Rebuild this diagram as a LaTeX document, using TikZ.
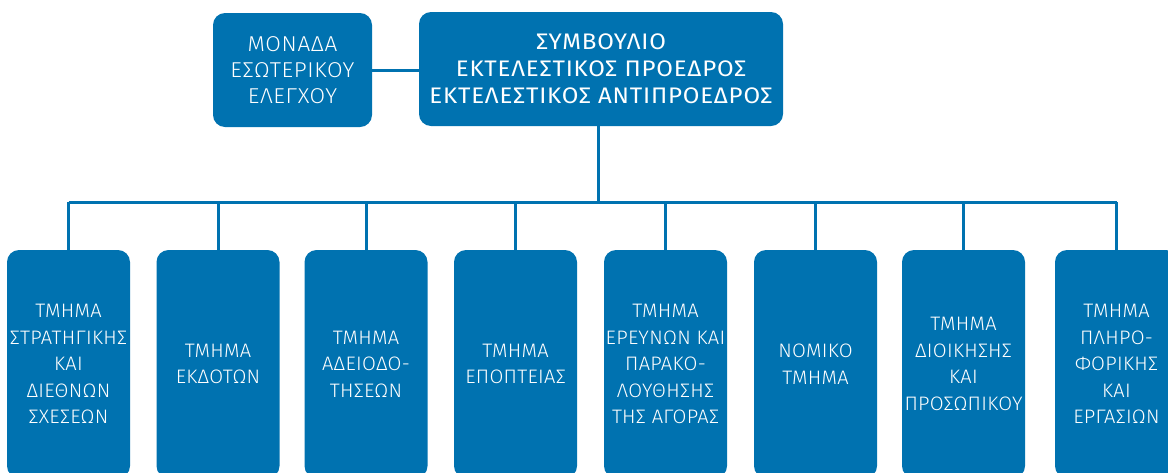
\documentclass[tikz,border=0pt]{standalone}
\usepackage{fontspec}
\IfFontExistsTF{Fira Sans Light}{%
  \newfontfamily\unitfont[FakeStretch=1.05,LetterSpace=3]{Fira Sans Light}%
  \newfontfamily\deptfont[FakeStretch=1.03,LetterSpace=1.5]{Fira Sans Light}%
}{%
  \newfontfamily\unitfont[FakeStretch=1.05,LetterSpace=3]{Fira Sans}%
  \newfontfamily\deptfont[FakeStretch=1.03,LetterSpace=1.5]{Fira Sans}%
}
\newfontfamily\boardfont[FakeStretch=1.07,LetterSpace=3.5]{Fira Sans}
\definecolor{boxblue}{RGB}{0,114,176}
\tikzset{
  box/.style={fill=boxblue, rounded corners=12pt, text=white, align=center, inner sep=0pt},
  topbox/.style={box, font=\unitfont\fontsize{21.5}{26}\selectfont},
  mainbox/.style={box, font=\boardfont\fontsize{22.5}{27}\selectfont},
  dept/.style={box, minimum width=123pt, minimum height=228pt, font=\deptfont\fontsize{19.5}{26.5}\selectfont},
  link/.style={draw=boxblue, line width=3pt}
}
\begin{document}
\begin{tikzpicture}[x=1pt,y=-1pt]
\useasboundingbox (0,0) rectangle (1168,472);
\clip (0,0) rectangle (1168,472);
\node[topbox, minimum width=159pt, minimum height=114pt] (unit) at (292.5,70) {ΜΟΝΑΔΑ\\ΕΣΩΤΕΡΙΚΟΥ\\ΕΛΕΓΧΟΥ};
\node[mainbox, minimum width=364pt, minimum height=114pt] (main) at (601,69) {ΣΥΜΒΟΥΛΙΟ\\ΕΚΤΕΛΕΣΤΙΚΟΣ ΠΡΟΕΔΡΟΣ\\ΕΚΤΕΛΕΣΤΙΚΟΣ ΑΝΤΙΠΡΟΕΔΡΟΣ};
\node[dept] (b1) at (68.5,364) {ΤΜΗΜΑ\\ΣΤΡΑΤΗΓΙΚΗΣ\\ΚΑΙ\\ΔΙΕΘΝΩΝ\\ΣΧΕΣΕΩΝ};
\node[dept] (b2) at (218,364) {ΤΜΗΜΑ\\ΕΚΔΟΤΩΝ};
\node[dept] (b3) at (366,364) {ΤΜΗΜΑ\\ΑΔΕΙΟΔΟ-\\ΤΗΣΕΩΝ};
\node[dept] (b4) at (515.5,364) {ΤΜΗΜΑ\\ΕΠΟΠΤΕΙΑΣ};
\node[dept] (b5) at (665.5,364) {ΤΜΗΜΑ\\ΕΡΕΥΝΩΝ ΚΑΙ\\ΠΑΡΑΚΟ-\\ΛΟΥΘΗΣΗΣ\\ΤΗΣ ΑΓΟΡΑΣ};
\node[dept] (b6) at (815.5,364) {ΝΟΜΙΚΟ\\ΤΜΗΜΑ};
\node[dept] (b7) at (963.5,364) {ΤΜΗΜΑ\\ΔΙΟΙΚΗΣΗΣ\\ΚΑΙ\\ΠΡΟΣΩΠΙΚΟΥ};
\node[dept] (b8) at (1116.5,364) {ΤΜΗΜΑ\\ΠΛΗΡΟ-\\ΦΟΡΙΚΗΣ\\ΚΑΙ\\ΕΡΓΑΣΙΩΝ};
\coordinate (bus) at (598,202);
\draw[link] (unit.east) -- (unit.east -| main.west);
\draw[link] (main.south -| bus) -- (bus);
\draw[link] (b1.north |- bus) -- (b8.north |- bus);
\foreach \i in {1,...,8} {
  \draw[link] (b\i.north) -- (b\i.north |- bus);
}
\end{tikzpicture}
\end{document}
